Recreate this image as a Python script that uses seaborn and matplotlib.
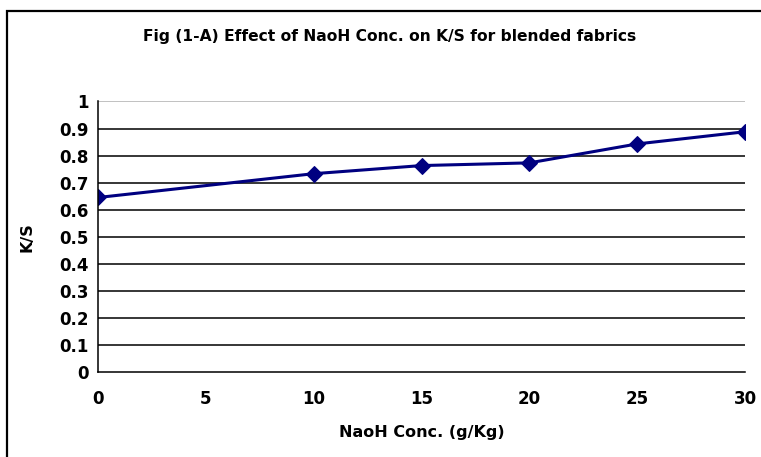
import numpy as np
import pandas as pd
import matplotlib
matplotlib.use("Agg")
import matplotlib.pyplot as plt
import seaborn as sns
from matplotlib.patches import Rectangle

# data
naoh_conc = [0, 10, 15, 20, 25, 30]
ks_values = [0.645, 0.733, 0.763, 0.773, 0.843, 0.888]
x_ticks = [0, 5, 10, 15, 20, 25, 30]
y_ticks = [0, 0.1, 0.2, 0.3, 0.4, 0.5, 0.6, 0.7, 0.8, 0.9, 1]
y_labels = ["0", "0.1", "0.2", "0.3", "0.4", "0.5", "0.6", "0.7", "0.8", "0.9", "1"]

df = pd.DataFrame({"NaoH Conc. (g/Kg)": naoh_conc, "K/S": ks_values})

sns.set_style("white")
plt.rcParams['font.family'] = ['DejaVu Sans']
plt.rcParams['text.color'] = 'black'
plt.rcParams['axes.labelcolor'] = 'black'
plt.rcParams['xtick.color'] = 'black'
plt.rcParams['ytick.color'] = 'black'

fig = plt.figure(figsize=(7.61, 4.57), dpi=100)
ax = fig.add_axes([0.1288, 0.186, 0.8502, 0.592])

# outer chart border
fig.patches.append(Rectangle((7 / 761, -0.1), 1.2, 1 - 11 / 457 + 0.1,
                             transform=fig.transFigure, fill=False,
                             edgecolor="black", linewidth=1.6))

sns.lineplot(data=df, x="NaoH Conc. (g/Kg)", y="K/S", ax=ax, color="#000080",
             linewidth=2.2, marker="D", markersize=8, markeredgecolor="#000080")

ax.set_xlim(0, 30)
ax.set_ylim(0, 1)
ax.set_xticks(x_ticks)
ax.set_yticks(y_ticks)
ax.set_yticklabels(y_labels)

for yv in y_ticks[1:-1]:
    ax.axhline(yv, color="black", linewidth=1.1, zorder=0)
ax.axhline(1, color="#b0b0b0", linewidth=1.1, zorder=0)

for side in ["top", "right"]:
    ax.spines[side].set_visible(False)
for side in ["left", "bottom"]:
    ax.spines[side].set_color("black")
    ax.spines[side].set_linewidth(1.1)

ax.tick_params(axis="y", direction="out", length=5, width=1, labelsize=12, pad=1.5)
ax.tick_params(axis="x", direction="inout", length=8, width=1, labelsize=12, pad=9)
for lbl in ax.get_xticklabels() + ax.get_yticklabels():
    lbl.set_fontweight("bold")

ax.set_xlabel("NaoH Conc. (g/Kg)", fontsize=11.5, fontweight="bold", labelpad=12)
ax.set_ylabel("K/S", fontsize=11.5, fontweight="bold", labelpad=18)

fig.text(390 / 761, 1 - 37 / 457, "Fig (1-A) Effect of NaoH Conc. on K/S for blended fabrics",
         ha="center", va="center", fontsize=11.2, fontweight="bold")

fig.savefig("out.png", dpi=100)
